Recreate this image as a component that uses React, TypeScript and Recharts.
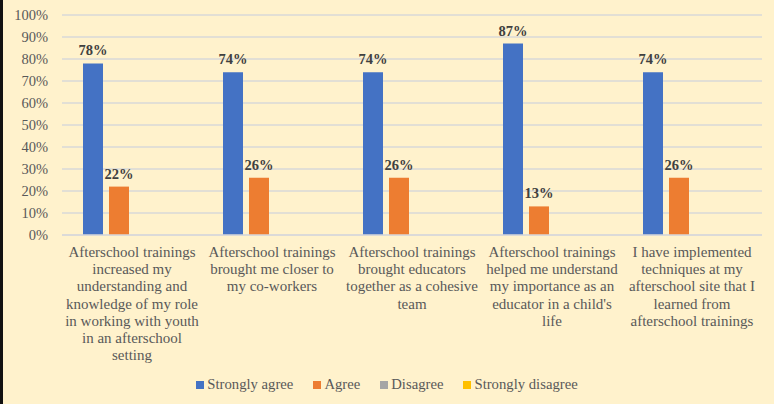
import React from 'react';
import { BarChart, Bar, XAxis, YAxis, CartesianGrid, Legend, LabelList } from 'recharts';

const categories = [
  "Afterschool trainings\nincreased my\nunderstanding and\nknowledge of my role\nin working with youth\nin an afterschool\nsetting",
  "Afterschool trainings\nbrought me closer to\nmy co-workers",
  "Afterschool trainings\nbrought educators\ntogether as a cohesive\nteam",
  "Afterschool trainings\nhelped me understand\nmy importance as an\neducator in a child's\nlife",
  "I have implemented\ntechniques at my\nafterschool site that I\nlearned from\nafterschool trainings",
];
const stronglyAgree = [78, 74, 74, 87, 74];
const agree = [22, 26, 26, 13, 26];
const disagree = [0, 0, 0, 0, 0];
const stronglyDisagree = [0, 0, 0, 0, 0];
const yTicks = [0, 10, 20, 30, 40, 50, 60, 70, 80, 90, 100];

const seriesNames = ["Strongly agree", "Agree", "Disagree", "Strongly disagree"];
const seriesColors = ["#4472C4", "#ED7D31", "#A5A5A5", "#FFC000"];

const data = categories.map((c, i) => ({
  name: c,
  sa: stronglyAgree[i],
  a: agree[i],
  d: disagree[i],
  sd: stronglyDisagree[i],
}));

const FONT = "'Times New Roman', 'Liberation Serif', Tinos, 'Noto Serif', 'DejaVu Serif', Times, serif";
const TEXT = '#595959';

const CatTick = (props: any) => {
  const { x, y, payload } = props;
  const lines = String(payload.value).split('\n');
  return (
    <text x={x} y={y} textAnchor="middle" fill={TEXT} style={{ fontFamily: FONT, fontSize: 15 }}>
      {lines.map((l, i) => (
        <tspan key={i} x={x} dy={i === 0 ? 14 : 17.2}>{l}</tspan>
      ))}
    </text>
  );
};

const LegendContent = () => (
  <div style={{ display: 'flex', justifyContent: 'center', fontFamily: FONT, fontSize: 14.7, color: TEXT }}>
    {seriesNames.map((n, i) => (
      <div key={n} style={{ display: 'flex', alignItems: 'center', marginRight: i < 3 ? 20 : 0 }}>
        <span style={{ display: 'inline-block', width: 8, height: 8, background: seriesColors[i], marginRight: 3 }} />
        <span>{n}</span>
      </div>
    ))}
  </div>
);

const fmt = (v: any) => (v ? `${v}%` : '');

export default function App() {
  const keys = ['sa', 'a', 'd', 'sd'];
  return (
    <div style={{ position: 'absolute', left: 0, top: 0, width: 774, height: 404, background: '#FFF2CC', fontFamily: FONT }}>
      <div style={{ position: 'absolute', left: 0, top: 0, width: 3, height: 404, background: '#111' }} />
      <BarChart
        width={774}
        height={404}
        data={data}
        margin={{ top: 15, right: 12, left: 0, bottom: 151 }}
        barGap={6}
        barSize={20}
        style={{ fontFamily: FONT }}
      >
        <CartesianGrid vertical={false} stroke="#D9D9D9" strokeWidth={1.3} />
        <XAxis
          dataKey="name"
          interval={0}
          tickLine={false}
          axisLine={{ stroke: '#D9D9D9', strokeWidth: 1.3 }}
          tick={<CatTick />}
          height={1}
        />
        <YAxis
          width={62}
          domain={[0, 100]}
          ticks={yTicks}
          interval={0}
          tickFormatter={(v) => `${v}%`}
          axisLine={false}
          tickLine={false}
          tickSize={6}
          tickMargin={8}
          tick={{ fill: TEXT, fontSize: 14.5, style: { fontFamily: FONT } }}
        />
        <Legend
          verticalAlign="bottom"
          content={<LegendContent />}
          wrapperStyle={{ position: 'absolute', left: 0, width: 774, top: 376 }}
        />
        {keys.map((k, i) => (
          <Bar key={k} dataKey={k} name={seriesNames[i]} fill={seriesColors[i]} isAnimationActive={false}>
            <LabelList
              dataKey={k}
              position="top"
              offset={8}
              formatter={fmt}
              fill="#404040"
              fontSize={14.5}
              fontWeight="bold"
              style={{ fontFamily: FONT }}
            />
          </Bar>
        ))}
      </BarChart>
    </div>
  );
}
